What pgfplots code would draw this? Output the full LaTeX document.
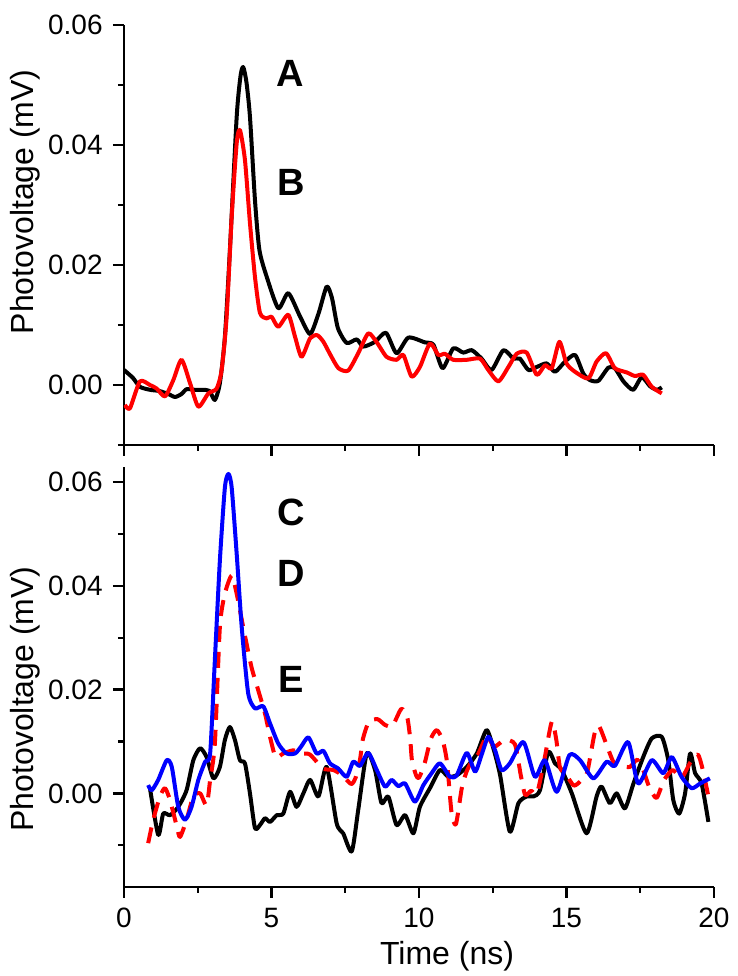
\documentclass[border=0pt]{standalone}
\usepackage{pgfplots}
\pgfplotsset{compat=1.18}
\usepackage{fontspec}
\setmainfont{Liberation Sans}

\pgfplotsset{
  myaxis/.style={
    scale only axis, width=295pt, height=210pt,
    xmin=0, xmax=20,
    axis lines=left, axis line style={-, line width=1.2pt},
    tick align=outside,
    major tick length=5.5pt, minor tick length=3pt,
    tick style={line width=1.2pt, black},
    xtick={0,5,10,15,20}, minor xtick={2.5,7.5,12.5,17.5},
    ytick={0,0.02,0.04,0.06}, minor ytick={-0.01,0.01,0.03,0.05},
    scaled y ticks=false,
    /pgf/number format/assume math mode=true,
    tick label style={font=\fontsize{14}{16}\selectfont},
    yticklabel style={/pgf/number format/fixed, /pgf/number format/fixed zerofill, /pgf/number format/precision=2, inner sep=0pt, xshift=-5pt},
    xticklabel style={inner sep=0pt, yshift=-5pt},
    every axis y label/.style={rotate=90, anchor=center, font=\fontsize{16}{19}\selectfont},
    every axis x label/.style={anchor=base, font=\fontsize{16}{19}\selectfont},
  },
  curve/.style={line width=2pt, smooth, tension=0.4, no markers, line join=round},
}

\begin{document}
\begin{tikzpicture}
\useasboundingbox (-62pt,-44.65pt) rectangle (307pt,443.35pt);

% ---------------- top panel ----------------
\begin{axis}[myaxis, at={(0pt,220.85pt)}, ymin=-0.01, ymax=0.06,
  xticklabels={},
  ylabel={Photovoltage (mV)},
  ylabel style={at={(axis description cs:-0.1678,0.579)}}]
\addplot[curve, black] coordinates {
(0.0,0.0025) (0.3,0.0012) (0.54,-0.0003) (0.88,-0.0008) (1.2,-0.001) (1.5,-0.0015)
(1.73,-0.002) (1.95,-0.0015) (2.12,-0.0007) (2.4,-0.0008) (2.68,-0.0008) (2.9,-0.001)
(3.08,-0.0025) (3.25,0.0003) (3.42,0.008) (3.59,0.0225) (3.82,0.0447) (3.95,0.0515)
(4.04,0.053) (4.15,0.0505) (4.27,0.0447) (4.44,0.0308) (4.59,0.0225) (4.84,0.018)
(5.23,0.0128) (5.57,0.0153) (5.97,0.0114) (6.31,0.0085) (6.6,0.012) (6.87,0.0164)
(7.05,0.0145) (7.25,0.0095) (7.55,0.007) (7.89,0.0076) (8.11,0.0064) (8.51,0.0072)
(8.88,0.0087) (9.24,0.0053) (9.64,0.0079) (10.2,0.0071) (10.49,0.0067) (10.8,0.0028)
(11.16,0.0061) (11.5,0.0054) (11.79,0.0058) (12.12,0.0044) (12.46,0.0025) (12.86,0.0058)
(13.2,0.0044) (13.42,0.0044) (13.71,0.0025) (13.99,0.003) (14.33,0.0036) (14.61,0.0022)
(14.95,0.0039) (15.29,0.005) (15.57,0.0019) (15.8,0.0008) (16.08,0.0007) (16.42,0.0029)
(16.64,0.0028) (16.93,0.0006) (17.26,-0.0008) (17.55,0.0013) (17.83,-0.0002) (18.06,-0.0008)
(18.23,-0.0004)
};
\addplot[curve, red] coordinates {
(0.03,-0.0033) (0.2,-0.0039) (0.54,0.0006) (0.88,0.0) (1.11,-0.0006) (1.39,-0.0019)
(1.67,0.0008) (1.95,0.0042) (2.24,0.0003) (2.52,-0.0036) (2.86,-0.0014) (3.14,-0.0006)
(3.31,0.0025) (3.48,0.0114) (3.65,0.028) (3.82,0.0403) (3.93,0.0425) (4.1,0.0375)
(4.27,0.027) (4.44,0.018) (4.61,0.012) (4.84,0.0111) (5.0,0.0114) (5.23,0.0097)
(5.57,0.0117) (5.8,0.008) (6.02,0.0047) (6.31,0.0078) (6.55,0.0083) (6.76,0.0072)
(7.0,0.005) (7.27,0.0028) (7.6,0.0024) (7.94,0.0053) (8.28,0.0086) (8.57,0.0071)
(8.9,0.0047) (9.24,0.0042) (9.47,0.005) (9.75,0.0014) (10.03,0.003) (10.37,0.0069)
(10.66,0.005) (10.88,0.0052) (11.16,0.0042) (11.62,0.0042) (12.07,0.0044) (12.35,0.0025)
(12.69,0.0006) (13.03,0.003) (13.31,0.0052) (13.65,0.0054) (13.99,0.0017) (14.27,0.0033)
(14.5,0.0028) (14.76,0.0072) (15.0,0.0036) (15.29,0.0022) (15.74,0.0011) (16.02,0.0039)
(16.34,0.0053) (16.64,0.0028) (17.04,0.0021) (17.32,0.0015) (17.6,0.0017) (17.89,-0.0003)
(18.23,-0.0014)
};
\node[font=\bfseries\fontsize{19}{22}\selectfont] at (axis cs:5.63,0.052) {A};
\node[font=\bfseries\fontsize{19}{22}\selectfont] at (axis cs:5.66,0.0338) {B};
\end{axis}

% ---------------- bottom panel ----------------
\begin{axis}[myaxis, at={(0pt,0pt)}, ymin=-0.018, ymax=0.063,
  xlabel={Time (ns)},
  xlabel style={at={(axis description cs:0.5475,-0.1864)}},
  ylabel={Photovoltage (mV)},
  ylabel style={at={(axis description cs:-0.1678,0.447)}}]
\addplot[curve, black] coordinates {
(0.88,0.001) (1.16,-0.008) (1.33,-0.0039) (1.56,-0.0042) (1.84,-0.0026) (2.12,0.0006)
(2.35,0.0064) (2.58,0.0087) (2.8,0.007) (3.03,0.0029) (3.25,0.0051) (3.42,0.0103)
(3.59,0.0128) (3.76,0.0103) (3.93,0.0064) (4.1,0.0058) (4.27,0.0) (4.44,-0.0067)
(4.61,-0.0061) (4.78,-0.0048) (4.95,-0.0055) (5.18,-0.0042) (5.4,-0.0039) (5.63,0.0003)
(5.85,-0.0026) (6.08,0.0) (6.31,0.0026) (6.59,-0.0006) (6.87,0.0051) (7.21,-0.0058)
(7.43,-0.0077) (7.72,-0.0112) (7.94,-0.0032) (8.23,0.0077) (8.51,0.0045) (8.73,-0.0019)
(8.96,-0.0006) (9.24,-0.0061) (9.53,-0.0042) (9.81,-0.0077) (10.03,-0.0026) (10.37,0.001)
(10.71,0.0045) (10.99,0.0032) (11.28,0.0035) (11.62,0.0051) (11.96,0.0077) (12.29,0.0122)
(12.52,0.0087) (12.75,0.0035) (13.08,-0.0074) (13.37,-0.0019) (13.65,-0.0006) (13.88,-0.0006)
(14.1,0.0006) (14.38,0.008) (14.61,0.0058) (14.84,0.0045) (15.18,0.0) (15.68,-0.0077)
(16.02,-0.0006) (16.19,0.0013) (16.47,-0.0019) (16.7,0.0) (16.98,-0.0029) (17.27,0.0019)
(17.6,0.007) (17.89,0.0106) (18.23,0.0109) (18.45,0.0064) (18.62,-0.0013) (18.82,-0.0039)
(19.02,0.0) (19.19,0.0077) (19.36,0.0039) (19.58,0.0019) (19.81,-0.0055)
};
\addplot[curve, red, dash pattern=on 8pt off 5pt] coordinates {
(0.82,-0.0096) (0.99,-0.0051) (1.22,-0.0006) (1.39,0.001) (1.56,-0.0013) (1.79,-0.0064)
(1.9,-0.0084) (2.12,-0.0051) (2.35,-0.0006) (2.58,0.0) (2.8,-0.0023) (2.92,0.0026)
(3.08,0.0096) (3.25,0.0321) (3.42,0.0385) (3.65,0.042) (3.82,0.0385) (4.04,0.0321)
(4.32,0.0244) (4.55,0.0199) (4.78,0.0154) (4.95,0.0109) (5.14,0.007) (5.4,0.0077)
(5.74,0.0083) (6.0,0.0077) (6.3,0.0075) (6.75,0.0048) (7.1,0.0045) (7.4,0.0035)
(7.7,0.0018) (7.85,0.003) (8.0,0.0065) (8.1,0.0105) (8.3,0.0138) (8.6,0.0143)
(8.85,0.0132) (9.1,0.013) (9.4,0.0163) (9.6,0.0147) (9.7,0.0107) (9.76,0.0064)
(9.9,0.0035) (10.0,0.003) (10.2,0.006) (10.4,0.0105) (10.6,0.0122) (10.8,0.0103)
(10.95,0.006) (11.1,-0.0035) (11.25,-0.006) (11.45,0.001) (11.6,0.004) (11.75,0.0058)
(12.0,0.0075) (12.3,0.011) (12.55,0.009) (12.9,0.0103) (13.25,0.0095) (13.45,0.0035)
(13.6,-0.0003) (13.8,0.0005) (14.0,0.0) (14.25,0.0065) (14.5,0.0138) (14.65,0.0105)
(14.78,0.005) (15.0,0.0035) (15.25,0.0015) (15.5,0.0025) (15.7,0.004) (15.95,0.0115)
(16.1,0.013) (16.35,0.0095) (16.6,0.006) (16.9,0.0053) (17.15,0.0051) (17.4,0.0065)
(17.6,0.0045) (17.8,0.0013) (18.05,-0.0009) (18.3,0.0025) (18.6,0.0045) (18.9,0.003)
(19.2,0.006) (19.45,0.0075) (19.6,0.005) (19.8,-0.0003)
};
\addplot[curve, blue] coordinates {
(0.82,0.0016) (0.94,0.0006) (1.16,0.0026) (1.45,0.0064) (1.62,0.0051) (1.84,-0.0026)
(2.07,-0.0051) (2.29,-0.0026) (2.52,0.0026) (2.75,0.0061) (2.92,0.0077) (3.08,0.0257)
(3.25,0.0449) (3.42,0.059) (3.54,0.0616) (3.65,0.059) (3.82,0.0462) (3.99,0.0321)
(4.21,0.0193) (4.44,0.0164) (4.72,0.0168) (4.95,0.0135) (5.23,0.0096) (5.51,0.0077)
(5.8,0.0077) (6.0,0.009) (6.25,0.0108) (6.53,0.0077) (6.76,0.0082) (6.98,0.0058)
(7.26,0.0048) (7.55,0.0032) (7.77,0.0061) (8.0,0.0053) (8.28,0.0078) (8.57,0.0045)
(8.85,0.0013) (9.07,0.0026) (9.3,0.0014) (9.53,0.0019) (9.86,-0.0016) (10.15,0.0016)
(10.43,0.0039) (10.71,0.0058) (11.05,0.0032) (11.28,0.0035) (11.62,0.0078) (11.9,0.0042)
(12.12,0.0074) (12.35,0.0109) (12.58,0.0083) (12.8,0.0045) (13.08,0.0058) (13.54,0.0099)
(13.93,0.0032) (14.27,0.0064) (14.67,0.0003) (15.1,0.0074) (15.46,0.0064) (15.91,0.0029)
(16.36,0.0061) (16.64,0.0053) (17.09,0.0099) (17.43,0.0019) (17.89,0.0064) (18.28,0.0039)
(18.57,0.007) (18.9,0.0032) (19.24,0.001) (19.53,0.0019) (19.86,0.0029)
};
\node[font=\bfseries\fontsize{19}{22}\selectfont] at (axis cs:5.66,0.0542) {C};
\node[font=\bfseries\fontsize{19}{22}\selectfont] at (axis cs:5.66,0.0424) {D};
\node[font=\bfseries\fontsize{19}{22}\selectfont] at (axis cs:5.66,0.022) {E};
\end{axis}
\end{tikzpicture}
\end{document}
